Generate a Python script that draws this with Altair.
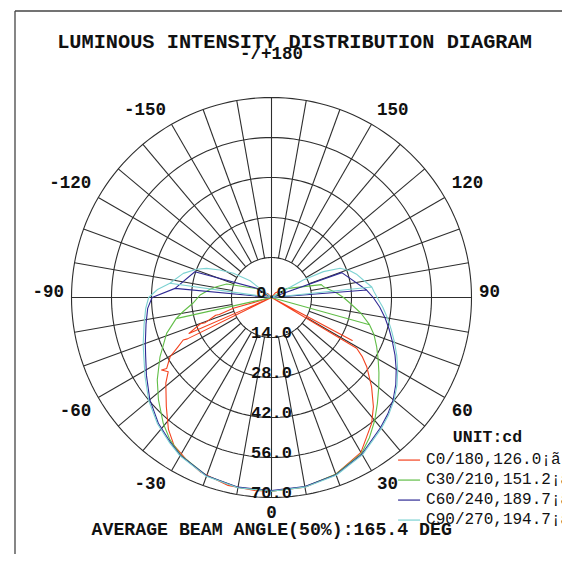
import altair as alt
import pandas as pd

# ---------------- data ----------------
RING_VALUES = [0, 14, 28, 42, 56, 70]          # cd, radial ring labels
SPOKE_STEP = 10                                 # degrees between radial grid lines
ANGLE_LABEL_ANGLES = [0, 30, 60, 90, 120, 150, 180, -150, -120, -90, -60, -30]
ANGLE_LABEL_TEXTS = ["0", "30", "60", "90", "120", "150", "-/+180",
                     "-150", "-120", "-90", "-60", "-30"]

SERIES = ["C0/180", "C30/210", "C60/240", "C90/270"]
LEGEND_TEXTS = ["C0/180,126.0¡ã", "C30/210,151.2¡ã", "C60/240,189.7¡ã", "C90/270,194.7¡ã"]
COLORS = ["#f4421f", "#62be48", "#2f2a94", "#7dd2d2"]

# C0 / C180 (red)
C0_R_ANG = [0, 10, 20, 30, 34.4, 38.5, 43, 48.3, 54, 57, 59.2, 60, 62, 62.8, 80, 95, 110, 120, 130, 140, 150]
C0_R_VAL = [67.8, 67.4, 65.8, 62.6, 59.0, 56.3, 52.3, 46.9, 41.2, 37.8, 34.7, 0.2, 32.0, 0.4, 0.8, 1.5, 2.6, 3.0, 3.2, 2.2, 0]
C0_L_ANG = [0, -5, -13, -22, -28, -33.4, -38, -44, -51, -54.3, -56.6, -55.9, -59.7, -62.2, -64.3, -63.8,
            -65, -66.5, -69.7, -69.2, -72.3, -72.0, -74.2, -78, -95, -110, -123, -135, -150]
C0_L_VAL = [67.8, 67.8, 67.5, 66.0, 64.0, 62.0, 58.6, 53.0, 47.6, 44.5, 46.1, 44.3, 41.1, 37.0, 34.3, 32.8,
            0.2, 31.5, 26.5, 24.8, 20.5, 19.2, 13.9, 0.5, 1.2, 2.2, 2.8, 2.0, 0]

# C30 / C210 (green)
C30_R_ANG = [0, 10, 20, 30, 35, 40, 45, 50, 55, 60, 65, 70, 74.5, 74.5, 74.5, 80, 85.8, 90, 93.7, 97.5,
             101.8, 104.5, 121, 140]
C30_R_VAL = [67.8, 67.3, 65.8, 63.0, 59.8, 56.2, 52.4, 49.0, 45.9, 43.1, 40.6, 38.2, 35.6, 0, 35.6, 31.8,
             27.6, 25.2, 23.0, 20.6, 18.6, 18.0, 6.0, 0]
C30_L_ANG = [0, -10, -20, -30, -35.5, -40.7, -47.8, -54.2, -62, -71.1, -77.5, -77.5, -77.5, -81, -85.8,
             -92, -98, -101.1, -106.8, -121, -140]
C30_L_VAL = [67.8, 67.5, 66.4, 63.6, 61.2, 58.1, 53.4, 49.3, 44.2, 38.8, 34.2, 0, 34.2, 31.3, 27.6,
             25.0, 21.5, 19.6, 16.4, 6.0, 0]

# C60 / C240 (blue)
C60_R_ANG = [0, 10, 20, 30, 40, 45, 50, 55, 60, 65, 70, 75, 80, 85, 90, 94.5, 94.5, 94.5, 109.5, 110.5]
C60_R_VAL = [67.6, 67.2, 66.0, 63.3, 59.4, 57.6, 55.6, 53.1, 50.4, 47.7, 45.0, 42.6, 40.3, 38.0, 35.6,
             33.4, 0, 33.4, 26.1, 0]
C60_L_ANG = [0, -10, -20, -30, -35, -42, -50, -58, -65, -70, -78, -85, -90, -95.4, -95.4, -95.4,
             -108.6, -122, -128]
C60_L_VAL = [67.6, 67.4, 66.4, 63.8, 61.8, 59.2, 55.6, 51.6, 48.6, 47.0, 44.9, 43.5, 41.8, 33.9, 0, 33.9,
             28.3, 6.1, 0]

# C90 / C270 (cyan)
C90_R_ANG = [0, 10, 20, 30, 40, 45, 50, 55, 60, 65, 70, 75, 80, 85, 90, 93.3, 96, 96, 96, 100.8, 105,
             108.9, 113.1, 116.5, 119, 125]
C90_R_VAL = [67.8, 67.4, 66.2, 63.6, 59.8, 58.0, 56.0, 53.6, 51.0, 48.4, 45.8, 43.4, 41.2, 39.1, 37.0,
             35.9, 35.3, 0, 35.3, 32.7, 31.0, 29.0, 26.1, 20.3, 12.7, 0]
C90_L_ANG = [0, -10, -20, -30, -35, -42, -50, -58, -65, -70, -78, -85, -90, -94, -98, -98, -98, -105.3,
             -110.7, -114.2, -118, -122.4, -128, -135]
C90_L_VAL = [67.8, 67.6, 66.6, 64.0, 62.1, 59.6, 56.1, 52.2, 49.3, 47.8, 45.6, 44.2, 43.0, 40.0, 35.9,
             0, 35.9, 32.0, 28.0, 24.9, 20.5, 15.8, 9.5, 0]

TITLE = "LUMINOUS INTENSITY DISTRIBUTION DIAGRAM"
FOOTER = "AVERAGE BEAM ANGLE(50%):165.4 DEG"
UNIT = "UNIT:cd"

# ---------------- layout / style ----------------
RMAX = RING_VALUES[-1]
PLOT = 400                      # px of plot area (diameter of outer ring)
K = RMAX * 2 / PLOT             # cd per pixel
GRID = "#2e2e2e"
MONO = "Liberation Mono"

X = alt.X("x:Q", scale=alt.Scale(domain=[-RMAX, RMAX], nice=False, zero=False), axis=None)
Y = alt.Y("y:Q", scale=alt.Scale(domain=[-RMAX, RMAX], nice=False, zero=False), axis=None)

# grid rings
ring_df = pd.DataFrame([(r, a) for r in RING_VALUES[1:] for a in range(0, 361, 2)], columns=["r", "a"])
rings = alt.Chart(ring_df).transform_calculate(
    x="datum.r*sin(datum.a*PI/180)", y="datum.r*cos(datum.a*PI/180)"
).mark_line(color=GRID, strokeWidth=1.1).encode(x=X, y=Y, detail="r:N", order="a:Q")

# radial spokes
spoke_df = pd.DataFrame({"a": list(range(0, 360, SPOKE_STEP))})
spokes = alt.Chart(spoke_df).transform_calculate(
    r0=f"datum.a % 90 == 0 ? 0 : {RING_VALUES[1]}"
).transform_calculate(
    x="datum.r0*sin(datum.a*PI/180)", y="datum.r0*cos(datum.a*PI/180)",
    x2=f"{RMAX}*sin(datum.a*PI/180)", y2=f"{RMAX}*cos(datum.a*PI/180)"
).mark_rule(color=GRID, strokeWidth=1.1).encode(x=X, y=Y, x2="x2:Q", y2="y2:Q")

# curves
halves = {
    "C0/180": [(C0_R_ANG, C0_R_VAL), (C0_L_ANG, C0_L_VAL)],
    "C30/210": [(C30_R_ANG, C30_R_VAL), (C30_L_ANG, C30_L_VAL)],
    "C60/240": [(C60_R_ANG, C60_R_VAL), (C60_L_ANG, C60_L_VAL)],
    "C90/270": [(C90_R_ANG, C90_R_VAL), (C90_L_ANG, C90_L_VAL)],
}
curve_layers = []
for name, col in zip(SERIES, COLORS):
    rows = []
    for h, (angs, vals) in enumerate(halves[name]):
        for i, (a, v) in enumerate(zip(angs, vals)):
            rows.append({"half": h, "seq": i, "ang": a, "v": v})
    df = pd.DataFrame(rows)
    curve_layers.append(
        alt.Chart(df).transform_calculate(
            x="datum.v*sin(datum.ang*PI/180)", y="-datum.v*cos(datum.ang*PI/180)"
        ).mark_line(color=col, strokeWidth=1.1, strokeJoin="round").encode(
            x=X, y=Y, detail="half:N", order="seq:Q")
    )

# radial value labels
ring_lbl = alt.Chart(pd.DataFrame({"v": RING_VALUES})).transform_calculate(
    x="0", y="-datum.v", lbl="format(datum.v, '.1f')"
).mark_text(font=MONO, fontSize=17, fontWeight="bold", baseline="alphabetic", align="center",
            color="#111").encode(x=X, y=Y, text="lbl:N")

# angle labels
ang_df = pd.DataFrame({"ang": ANGLE_LABEL_ANGLES, "txt": ANGLE_LABEL_TEXTS})
def ang_layer(filt, align):
    return alt.Chart(ang_df).transform_filter(filt).transform_calculate(
        s="sin(datum.ang*PI/180)", c="cos(datum.ang*PI/180)", aa="abs(datum.ang)"
    ).transform_calculate(
        gap=f"(3.5 + 4*abs(datum.s))*{K}",
        dyp="datum.aa == 0 ? 15 : (datum.aa == 180 ? -43.3 : (datum.aa < 90 ? 13.5 : (datum.aa == 90 ? -5.5 : -14.5)))"
    ).transform_calculate(
        x=f"{RMAX}*datum.s + (datum.s > 0.01 ? datum.gap : (datum.s < -0.01 ? -datum.gap : 0))",
        y=f"-{RMAX}*datum.c - datum.dyp*{K}"
    ).mark_text(font=MONO, fontSize=17.5, fontWeight="bold", align=align, baseline="middle",
                color="#111").encode(x=X, y=Y, text="txt:N")

ang_right = ang_layer("datum.ang > 0 && datum.ang < 180", "left")
ang_left = ang_layer("datum.ang < 0", "right")
ang_center = ang_layer("datum.ang == 0 || datum.ang == 180", "center")

# texts placed in pixels relative to plot origin
one = pd.DataFrame({"d": [0]})
title = alt.Chart(one).mark_text(text=TITLE, font=MONO, fontSize=20.3, fontWeight="bold",
                                 align="center", baseline="alphabetic", color="#111").encode(
    x=alt.value(223), y=alt.value(-49.5))
footer = alt.Chart(one).mark_text(text=FOOTER, font=MONO, fontSize=18.2, fontWeight="bold",
                                  align="center", baseline="alphabetic", color="#111").encode(
    x=alt.value(200.2), y=alt.value(437))
unit = alt.Chart(one).mark_text(text=UNIT, font=MONO, fontSize=16.5, fontWeight="bold",
                                align="center", baseline="middle", color="#111").encode(
    x=alt.value(416), y=alt.value(339.5))

# legend
LEG_X0, LEG_X1, LEG_TX = 44.3, 52.0, 54.1
LEG_Y0, LEG_DY = -56.9, 7.0
leg_df = pd.DataFrame({"series": SERIES, "label": LEGEND_TEXTS, "i": list(range(len(SERIES)))})
cscale = alt.Scale(domain=SERIES, range=COLORS)
leg_lines = alt.Chart(leg_df).transform_calculate(
    x=f"{LEG_X0}", x2=f"{LEG_X1}", y=f"{LEG_Y0} - datum.i*{LEG_DY}"
).mark_rule(strokeWidth=1.2).encode(
    x=X, x2="x2:Q", y=Y, color=alt.Color("series:N", scale=cscale, legend=None))
leg_text = alt.Chart(leg_df).transform_calculate(
    x=f"{LEG_TX}", y=f"{LEG_Y0} - datum.i*{LEG_DY}"
).mark_text(font=MONO, fontSize=16, align="left", baseline="middle", dy=-1.5, color="#111").encode(
    x=X, y=Y, text="label:N")

# frame
frame_l = alt.Chart(one).mark_rule(color="#444", strokeWidth=1.3).encode(
    x=alt.value(-56.5), y=alt.value(-86.5), y2=alt.value(470))
frame_t = alt.Chart(one).mark_rule(color="#444", strokeWidth=1.3).encode(
    x=alt.value(-56.5), x2=alt.value(500), y=alt.value(-86.5))

chart = alt.layer(
    frame_l, frame_t, rings, spokes, *curve_layers, ring_lbl, ang_right, ang_left, ang_center,
    title, footer, unit, leg_lines, leg_text
).properties(
    width=PLOT, height=PLOT,
    autosize=alt.AutoSizeParams(type="none"),
    padding={"left": 63.5, "top": 89.5, "right": 90.5, "bottom": 56.5},
).configure_view(stroke=None)

chart.save("out.html", embed_options={"renderer": "svg", "actions": False})
